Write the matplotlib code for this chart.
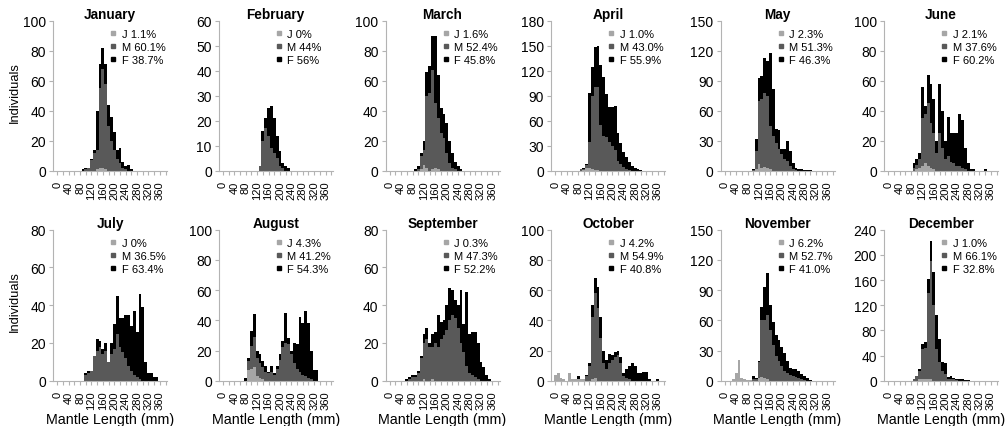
import matplotlib
matplotlib.use('Agg')
import matplotlib.pyplot as plt
from matplotlib.lines import Line2D
import numpy as np

plt.rcParams['font.family'] = ['Liberation Sans', 'DejaVu Sans']

MONTHS = ['January', 'February', 'March', 'April', 'May', 'June',
          'July', 'August', 'September', 'October', 'November', 'December']
N_BINS = 40                      # 10 mm classes: 0, 10, ..., 390
X_TICK_LABELS = ['0', '40', '80', '120', '160', '200', '240', '280', '320', '360']

PCT_J = ['1.1%', '0%', '1.6%', '1.0%', '2.3%', '2.1%', '0%', '4.3%', '0.3%', '4.2%', '6.2%', '1.0%']
PCT_M = ['60.1%', '44%', '52.4%', '43.0%', '51.3%', '37.6%', '36.5%', '41.2%', '47.3%', '54.9%', '52.7%', '66.1%']
PCT_F = ['38.7%', '56%', '45.8%', '55.9%', '46.3%', '60.2%', '63.4%', '54.3%', '52.2%', '40.8%', '41.0%', '32.8%']
Y_MAX = [100, 60, 100, 180, 150, 100, 80, 100, 80, 100, 150, 240]
Y_STEP = [20, 10, 20, 30, 30, 20, 20, 20, 20, 20, 30, 40]

# first class index of each month's run of values
START = [9, 13, 9, 9, 10, 9, 10, 8, 6, 0, 3, 9]

JAN_J = [0, 0, 0, 0, 0, 1, 2, 2, 1, 0, 0, 0, 0, 0, 0, 0, 0, 0]
JAN_M = [0, 1, 2, 7, 12, 13, 53, 66, 57, 30, 20, 14, 8, 5, 2, 1, 0, 0]
JAN_F = [1, 1, 0, 1, 2, 26, 16, 14, 13, 14, 16, 12, 6, 10, 4, 2, 4, 1]

FEB_J = [0, 0, 0, 0, 0, 0, 0, 0, 0, 0, 0]
FEB_M = [2, 12, 17, 14, 9, 7, 5, 2, 1, 0, 0]
FEB_F = [0, 4, 4, 11, 17, 14, 9, 6, 2, 2, 1]

MAR_J = [0, 0, 1, 4, 2, 0, 1, 2, 1, 0, 0, 0, 0, 0, 0, 0, 0]
MAR_M = [0, 1, 9, 10, 48, 52, 66, 43, 34, 25, 22, 12, 5, 2, 1, 0, 0]
MAR_F = [1, 2, 2, 6, 16, 18, 23, 45, 29, 17, 16, 20, 15, 10, 5, 3, 1]

APR_J = [0, 1, 3, 3, 2, 1, 1, 0, 0, 0, 0, 0, 0, 0, 0, 0, 0, 0, 0, 0, 0, 0]
APR_M = [2, 1, 4, 32, 88, 99, 99, 55, 42, 40, 35, 30, 25, 12, 8, 4, 2, 1, 0, 0, 0, 0]
APR_F = [0, 1, 1, 58, 35, 48, 50, 72, 71, 52, 42, 46, 53, 33, 25, 18, 14, 9, 6, 3, 2, 1]

MAY_J = [0, 2, 7, 3, 4, 3, 2, 0, 0, 0, 0, 0, 0, 0, 0, 0, 0, 0, 0, 0, 0]
MAY_M = [1, 18, 63, 69, 74, 72, 43, 35, 28, 22, 17, 12, 10, 5, 2, 1, 0, 0, 0, 0, 0]
MAY_F = [1, 12, 23, 23, 35, 35, 73, 47, 14, 19, 5, 10, 20, 15, 6, 2, 2, 2, 1, 1, 1]

JUN_J = [0, 1, 2, 3, 5, 3, 2, 1, 0, 0, 0, 0, 0, 0, 0, 0, 0, 0, 0, 0, 0, 0, 0, 0, 0, 0]
JUN_M = [2, 3, 6, 32, 33, 42, 30, 24, 12, 25, 15, 8, 10, 6, 5, 3, 3, 2, 1, 0, 0, 0, 0, 0, 0, 0]
JUN_F = [3, 4, 4, 21, 5, 19, 26, 23, 8, 33, 25, 12, 26, 19, 20, 22, 35, 32, 14, 5, 1, 1, 0, 0, 0, 1]

JUL_J = [0] * 26
JUL_M = [3, 4, 5, 13, 16, 18, 14, 16, 10, 14, 17, 25, 18, 15, 12, 8, 5, 3, 2, 1, 0, 0, 0, 0, 0, 0]
JUL_F = [1, 1, 0, 0, 6, 3, 3, 4, 0, 6, 13, 20, 15, 18, 23, 27, 24, 34, 24, 45, 39, 10, 4, 4, 2, 2]

AUG_J = [0, 7, 8, 9, 3, 2, 1, 0, 0, 0, 0, 0, 0, 0, 0, 0, 0, 0, 0, 0, 0, 0, 0, 0, 0, 0]
AUG_M = [0, 6, 15, 20, 12, 10, 8, 6, 5, 6, 4, 8, 14, 22, 25, 24, 18, 12, 8, 6, 4, 3, 2, 1, 0, 0]
AUG_F = [2, 2, 10, 15, 5, 6, 4, 4, 1, 4, 1, 2, 4, 4, 20, 4, 2, 13, 16, 36, 34, 43, 36, 19, 7, 7]

SEP_J = [0, 0, 0, 0, 0, 0, 1, 0, 0, 1, 0, 0, 0, 0, 0, 0, 0, 0, 0, 0, 0, 0, 0, 0, 0, 0, 0, 0, 0, 0]
SEP_M = [0, 1, 2, 2, 4, 12, 19, 22, 18, 17, 20, 18, 22, 24, 27, 32, 35, 33, 28, 20, 15, 8, 4, 3, 2, 1, 0, 0, 0, 0]
SEP_F = [1, 1, 1, 1, 1, 1, 5, 6, 2, 7, 6, 17, 9, 8, 13, 17, 13, 10, 12, 28, 15, 39, 21, 23, 24, 19, 10, 7, 3, 1]

OCT_J = [4, 5, 2, 1, 0, 5, 1, 1, 1, 1, 1, 0, 0, 1, 2, 0, 0, 0, 0, 0, 0, 0, 0, 0, 0, 0, 0, 0, 0, 0, 0, 0, 0, 0, 0, 0, 0]
OCT_M = [0, 0, 0, 0, 0, 0, 0, 0, 0, 0, 0, 3, 10, 41, 56, 48, 28, 12, 8, 12, 14, 16, 17, 12, 3, 2, 1, 0, 0, 0, 0, 0, 0, 0, 0, 0, 0]
OCT_F = [0, 0, 0, 0, 0, 0, 0, 0, 2, 0, 0, 1, 2, 8, 10, 14, 14, 8, 6, 6, 3, 3, 3, 4, 2, 6, 9, 12, 10, 5, 5, 6, 6, 1, 0, 0, 1]

NOV_J = [2, 8, 21, 3, 2, 1, 1, 0, 0, 3, 4, 3, 2, 0, 0, 0, 0, 0, 0, 0, 0, 0, 0, 0, 0, 0, 0, 0]
NOV_M = [0, 0, 0, 0, 0, 0, 0, 2, 2, 16, 56, 57, 63, 50, 35, 25, 20, 15, 10, 8, 6, 5, 4, 3, 2, 1, 0, 0]
NOV_F = [0, 0, 0, 0, 0, 0, 0, 3, 1, 1, 13, 33, 42, 25, 23, 20, 20, 18, 18, 12, 7, 7, 8, 7, 5, 4, 3, 1]

DEC_J = [0, 0, 2, 2, 2, 2, 2, 0, 0, 0, 0, 0, 0, 0, 0, 0, 0, 0, 0, 0]
DEC_M = [2, 8, 13, 48, 50, 138, 188, 120, 50, 30, 15, 10, 3, 3, 2, 1, 0, 0, 0, 0]
DEC_F = [0, 0, 3, 8, 10, 22, 32, 52, 54, 36, 15, 18, 3, 5, 3, 2, 2, 2, 1, 1]

J_ALL = [JAN_J, FEB_J, MAR_J, APR_J, MAY_J, JUN_J, JUL_J, AUG_J, SEP_J, OCT_J, NOV_J, DEC_J]
M_ALL = [JAN_M, FEB_M, MAR_M, APR_M, MAY_M, JUN_M, JUL_M, AUG_M, SEP_M, OCT_M, NOV_M, DEC_M]
F_ALL = [JAN_F, FEB_F, MAR_F, APR_F, MAY_F, JUN_F, JUL_F, AUG_F, SEP_F, OCT_F, NOV_F, DEC_F]

C_J = '#a6a6a6'
C_M = '#595959'
C_F = '#000000'
AXIS_C = '#b3b3b3'


def full(start, vals):
    arr = np.zeros(N_BINS)
    arr[start:start + len(vals)] = vals
    return arr


W, H = 1005, 427
fig = plt.figure(figsize=(W / 100, H / 100), dpi=100)

col_left = [53, 218.7, 385.5, 551, 720.5, 884]
row_top = [21.7, 230.7]
row_h = [150, 151]
ax_w = 114

x = np.arange(N_BINS)
for k, month in enumerate(MONTHS):
    r, c = divmod(k, 6)
    L = col_left[c]
    T = row_top[r]
    hh = row_h[r]
    ax = fig.add_axes([L / W, 1 - (T + hh) / H, ax_w / W, hh / H])
    j = full(START[k], J_ALL[k])
    m = full(START[k], M_ALL[k])
    f = full(START[k], F_ALL[k])
    ax.bar(x, j, width=1.0, color=C_J, linewidth=0, antialiased=False)
    ax.bar(x, m, width=1.0, bottom=j, color=C_M, linewidth=0, antialiased=False)
    ax.bar(x, f, width=1.0, bottom=j + m, color=C_F, linewidth=0, antialiased=False)

    ax.set_xlim(-1.5, 38.5)
    ax.set_ylim(0, Y_MAX[k])
    ax.set_yticks(np.arange(0, Y_MAX[k] + 1, Y_STEP[k]))
    ax.set_xticks(np.arange(0, 37, 4))
    ax.set_xticklabels(X_TICK_LABELS, rotation=90, fontsize=8)
    ax.set_xticks(np.arange(2, 39, 4), minor=True)
    for s in ['top', 'right']:
        ax.spines[s].set_visible(False)
    for s in ['left', 'bottom']:
        ax.spines[s].set_color(AXIS_C)
        ax.spines[s].set_linewidth(0.8)
    ax.tick_params(axis='y', labelsize=10, length=3, width=0.8, color=AXIS_C, pad=2, labelcolor='black')
    ax.tick_params(axis='x', which='both', length=3, width=0.8, color=AXIS_C, pad=4, labelcolor='black')
    ax.set_title(month, fontsize=9.8, fontweight='bold', pad=1.5)

    handles = [Line2D([], [], marker='s', linestyle='none', color=C_J, markersize=3),
               Line2D([], [], marker='s', linestyle='none', color=C_M, markersize=3),
               Line2D([], [], marker='s', linestyle='none', color=C_F, markersize=3)]
    labels = ['J ' + PCT_J[k], 'M ' + PCT_M[k], 'F ' + PCT_F[k]]
    ax.legend(handles, labels, loc='upper left', bbox_to_anchor=(0.5, 0.948),
              frameon=False, fontsize=8, handlelength=0.6, handletextpad=0.45,
              labelspacing=0.3, borderaxespad=0, borderpad=0)

    if c == 0:
        ax.set_ylabel('Individuals', fontsize=9.3, va='center')
        ax.yaxis.set_label_coords(-0.333, 0.53)
    if r == 1:
        ax.set_xlabel('Mantle Length (mm)', fontsize=10.3, va='center')
        ax.xaxis.set_label_coords(0.5, -0.254)

fig.savefig('out.png', dpi=100, facecolor='white')
